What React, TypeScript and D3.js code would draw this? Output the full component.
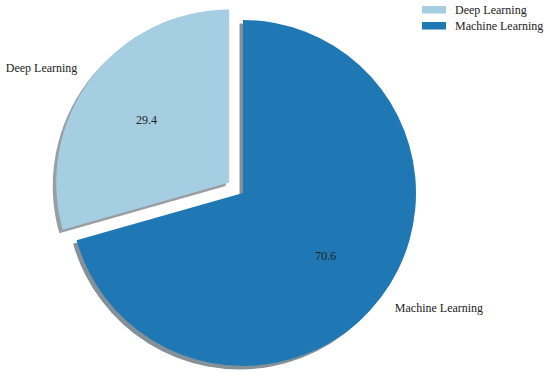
import React from "react";
import * as d3 from "d3";

const categories = ["Deep Learning", "Machine Learning"];
const values = [29.4, 70.6];
const colors = ["#a6cee3", "#1f78b4"];
const shadowColors = ["#989ea1", "#849199"];
const explode = [0.1, 0];

export default function App() {
  const W = 550, H = 377;
  const cx = 243, cy = 193, r = 173;
  const font = "'Liberation Serif', 'Times New Roman', serif";

  const pie = d3.pie<number>().sort(null).startAngle(0).endAngle(-2 * Math.PI);
  const arcs = pie(values);
  const arc = d3.arc<any>().innerRadius(0).outerRadius(r);

  const items = arcs.map((a, i) => {
    const mid = (a.startAngle + a.endAngle) / 2; // d3 angle: 0 at top, clockwise
    const ex = Math.sin(mid), ey = -Math.cos(mid);
    const ox = cx + explode[i] * r * ex;
    const oy = cy + explode[i] * r * ey;
    return { a, i, ex, ey, ox, oy };
  });

  const sOff = 0.02 * r;

  return (
    <svg width={W} height={H} style={{ position: "absolute", left: 0, top: 0 }}>
      <rect width={W} height={H} fill="white" />
      {items.map(({ a, i, ox, oy }) => (
        <path key={"s" + i} d={arc(a) as string} transform={`translate(${ox - sOff},${oy + sOff})`} fill={shadowColors[i]} />
      ))}
      {items.map(({ a, i, ox, oy }) => (
        <path key={"w" + i} d={arc(a) as string} transform={`translate(${ox},${oy})`} fill={colors[i]} />
      ))}
      {items.map(({ i, ex, ey, ox, oy }) => (
        <g key={"t" + i} fontFamily={font} fontSize={12}>
          <text x={ox + 0.6 * r * ex} y={oy + 0.6 * r * ey} textAnchor="middle" dominantBaseline="central" fill="#222">
            {values[i].toFixed(1)}
          </text>
          <text x={ox + 1.1 * r * ex} y={oy + 1.1 * r * ey} textAnchor={ex < 0 ? "end" : "start"} dominantBaseline="central" fill="#222">
            {categories[i]}
          </text>
        </g>
      ))}
      <g fontFamily={font} fontSize={12}>
        {categories.map((c, i) => (
          <g key={"l" + i} transform={`translate(422,${6 + i * 16})`}>
            <rect x={0} y={0} width={24} height={7.5} fill={colors[i]} />
            <text x={33} y={4} dominantBaseline="central" fill="#222">{c}</text>
          </g>
        ))}
      </g>
    </svg>
  );
}
